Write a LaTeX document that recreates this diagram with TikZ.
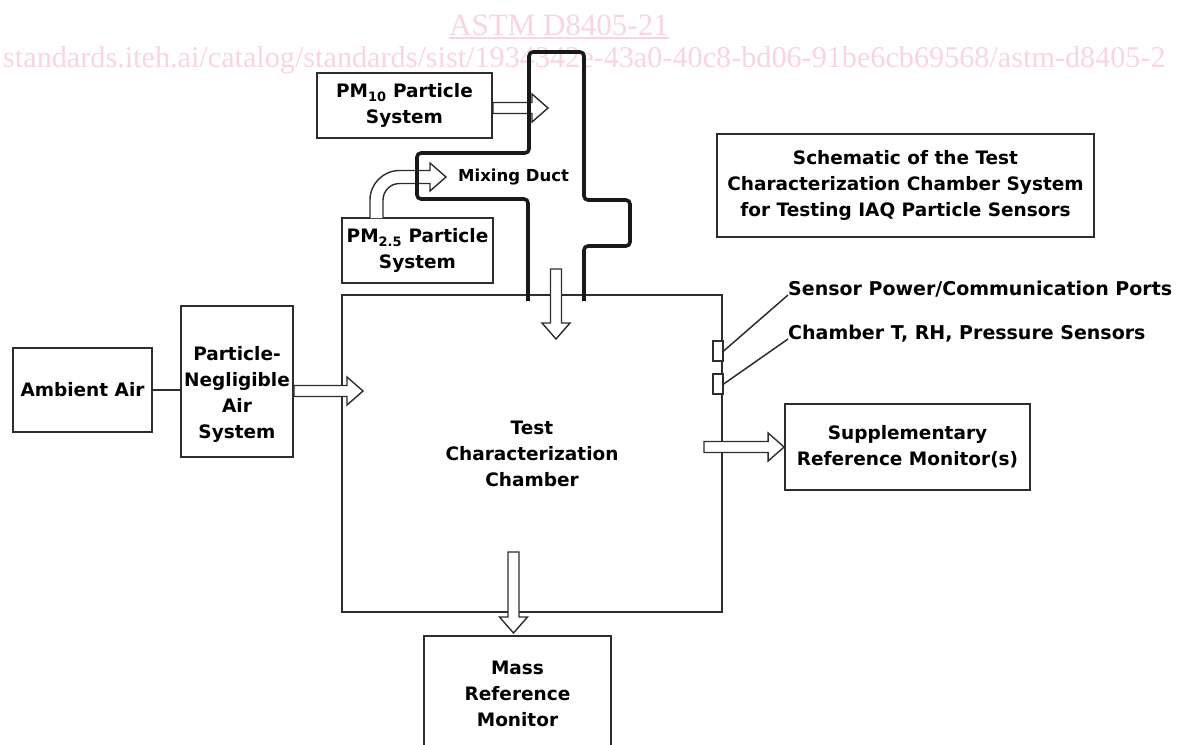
\documentclass[tikz,border=0pt]{standalone}
\usepackage{fontspec}
\setmainfont{DejaVu Sans}
\newfontfamily\wmfont{Liberation Serif}
\usetikzlibrary{calc}

\definecolor{ink}{RGB}{45,45,45}
\definecolor{wmpink}{RGB}{250,212,224}
\newcommand\lblfont{\fontsize{18.5}{26}\selectfont\bfseries}

\tikzset{
  box/.style={draw=ink, line width=1.8pt, align=center, inner sep=0pt, font=\lblfont},
  lbl/.style={inner sep=0pt, font=\fontsize{19}{26}\selectfont\bfseries},
  wire/.style={draw=ink, line width=1.5pt},
  port/.style={draw=ink, line width=1.3pt, fill=white, inner sep=0pt,
    minimum width=10pt, minimum height=20pt},
  flowline/.style={draw=ink, line width=1.4pt, fill=white},
  duct/.style={draw=black!90, line width=3.6pt, rounded corners=4pt},
  wm/.style={text=wmpink, inner sep=0pt, font=\wmfont\fontsize{31}{32}\selectfont}
}

% hollow block arrow from #1 to the tip #2
\newcommand\flowarrow[2]{%
  \draw[flowline] let \p1=(#1), \p2=(#2),
      \n1={atan2(\y2-\y1,\x2-\x1)}, \n2={veclen(\x2-\x1,\y2-\y1)-16} in
    [shift={(\p1)}, rotate=\n1]
    (0pt,-5.5pt) -- ({\n2*1pt},-5.5pt) -- ({\n2*1pt},-14pt) -- ({(\n2+16)*1pt},0pt)
    -- ({\n2*1pt},14pt) -- ({\n2*1pt},5.5pt) -- (0pt,5.5pt) -- cycle;}

\begin{document}
\begin{tikzpicture}[x=1pt,y=1pt]
  \useasboundingbox (0,0) rectangle (1180,-744);

  % watermark
  \node[wm, anchor=base] (wmtitle) at (559,-35) {ASTM D8405-21};
  \draw[wmpink, line width=2pt] ([yshift=-2.5pt]wmtitle.south west) -- ([yshift=-2.5pt]wmtitle.south east);
  \node[wm, anchor=base west, font=\wmfont\fontsize{30.2}{32}\selectfont] (wmurl) at (3,-67)
    {standards.iteh.ai/catalog/standards/sist/1934342e-43a0-40c8-bd06-91be6cb69568/astm-d8405-2};

  % boxes
  \node[box, minimum width=175pt, minimum height=65pt] (pm10) at (404.5,-105.5) {PM\textsubscript{10} Particle\\System};
  \node[box, minimum width=151pt, minimum height=65pt] (pm25) at (417.5,-250.5) {PM\textsubscript{2.5} Particle\\System};
  \node[box, minimum width=377pt, minimum height=103pt] (title) at (905.5,-185.5)
    {Schematic of the Test\\Characterization Chamber System\\for Testing IAQ Particle Sensors};
  \node[box, minimum width=139pt, minimum height=84pt] (ambient) at (82.5,-390) {Ambient Air};
  \node[box, minimum width=112pt, minimum height=151pt] (pna) at (237,-381.5) {};
  \node[lbl, align=center, font=\lblfont] (pnatext) at (237,-394) {Particle-\\Negligible\\Air\\System};
  \node[box, minimum width=380pt, minimum height=317pt] (chamber) at (532,-453.5) {Test\\Characterization\\Chamber};
  \node[box, minimum width=245pt, minimum height=86pt] (sup) at (907.5,-447) {Supplementary\\Reference Monitor(s)};
  \node[box, minimum width=187pt, minimum height=116pt] (mass) at (517.5,-694) {Mass\\Reference\\Monitor};

  % sensor ports
  \node[port] (port1) at (718,-351) {};
  \node[port] (port2) at (718,-384) {};
  \node[lbl, anchor=base west] (portlbl) at (788,-295) {Sensor Power/Communication Ports};
  \node[lbl, anchor=base west] (sensorlbl) at (788,-339) {Chamber T, RH, Pressure Sensors};
  \draw[wire] (port1.east) -- (portlbl.base west);
  \draw[wire] (port2.east) -- (sensorlbl.base west);

  \draw[wire] (ambient.east) -- (ambient.east -| pna.west);

  % flows
  \coordinate (pm10tip) at (548,-108);
  \coordinate (inlet) at (363,-391);
  \coordinate (mixout) at (556,-269);
  \coordinate (mixin) at (556,-339);
  \coordinate (supout) at (704,-447);
  \coordinate (massout) at (513.5,-552);
  \coordinate (masstip) at (513.5,-633);
  \flowarrow{pm10.east |- pm10tip}{pm10tip}
  \flowarrow{pna.east |- inlet}{inlet}
  \flowarrow{mixout}{mixin}
  \flowarrow{supout}{sup.west}
  \flowarrow{massout}{masstip}
  \draw[flowline] (370,-218) -- (370,-200) arc[start angle=180, end angle=90, radius=29.5]
    -- (430,-170.5) -- (430,-163) -- (446,-177) -- (430,-191) -- (430,-183.5)
    -- (399.5,-183.5) arc[start angle=90, end angle=180, radius=16.5] -- (383,-218);

  % mixing duct
  \draw[duct] (528,-301) -- (528,-199) -- (417,-199) -- (417,-153) -- (529,-153)
    -- (529,-52) -- (584,-52) -- (584,-200) -- (630,-200) -- (630,-246)
    -- (584,-246) -- (584,-301);
  \node[inner sep=0pt, anchor=west, font=\fontsize{16.5}{20}\selectfont\bfseries] (mixlbl) at (458,-177) {Mixing Duct};
\end{tikzpicture}
\end{document}
